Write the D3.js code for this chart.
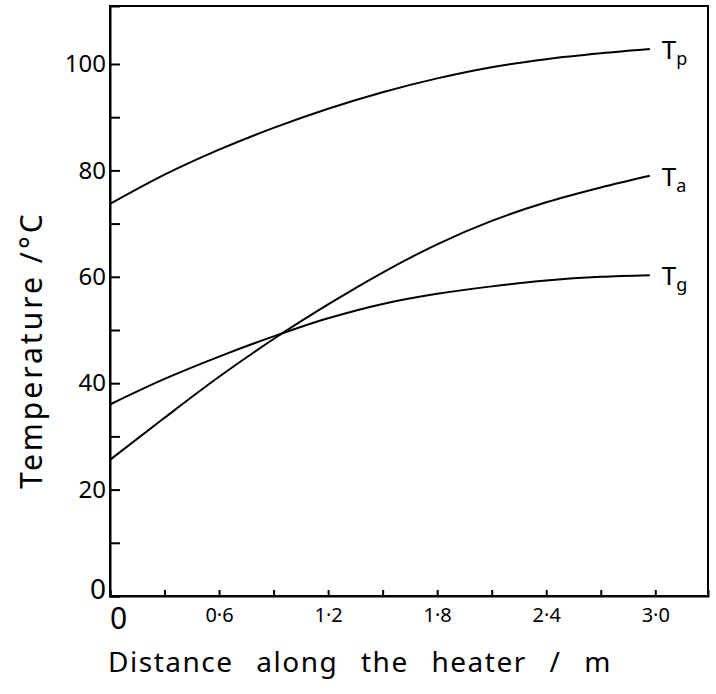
<!DOCTYPE html>
<html>
<head>
<meta charset="utf-8">
<script src="https://cdn.jsdelivr.net/npm/d3@7"></script>
<style>
  body { margin: 0; background: #fff; }
  text { font-family: "Noto Sans", sans-serif; fill: #000; }
</style>
</head>
<body>
<script>
const distance = [0, 0.3, 0.6, 0.9, 1.2, 1.5, 1.8, 2.1, 2.4, 2.7, 2.97];
const tP = [73.7, 79.2, 83.9, 88.0, 91.6, 94.7, 97.3, 99.4, 100.9, 102.0, 102.8];
const tA = [25.6, 33.5, 41.2, 48.3, 54.8, 60.8, 66.1, 70.5, 74.0, 76.8, 79.0];
const tG = [36, 40.8, 45.0, 48.8, 52.2, 54.9, 56.8, 58.2, 59.3, 60.0, 60.3];
const seriesNames = ["p", "a", "g"];
const xTicks = [0, 0.3, 0.6, 0.9, 1.2, 1.5, 1.8, 2.1, 2.4, 2.7, 3.0];
const xLabels = ["0", "", "0·6", "", "1·2", "", "1·8", "", "2·4", "", "3·0"];
const yTicks = [0, 10, 20, 30, 40, 50, 60, 70, 80, 90, 100];
const yLabels = ["0", "", "20", "", "40", "", "60", "", "80", "", "100"];

const w = 716, h = 694;
const padLeft = 110, padRight = 708, padTop = 6, padBottom = 596;

const svg = d3.select("body").append("svg")
  .attr("width", w)
  .attr("height", h);

const xScale = d3.scaleLinear().domain([0, 3.29]).range([padLeft, padRight]);
const yScale = d3.scaleLinear().domain([0, 110.9]).range([padBottom, padTop]);

// frame
svg.append("rect")
  .attr("x", padLeft).attr("y", padTop)
  .attr("width", padRight - padLeft).attr("height", padBottom - padTop)
  .attr("fill", "none").attr("stroke", "#000").attr("stroke-width", 2);

const xAxis = d3.axisBottom(xScale)
  .tickValues(xTicks)
  .tickSize(-6)
  .tickPadding(12)
  .tickFormat((d, i) => xLabels[i]);

const gx = svg.append("g")
  .attr("transform", "translate(0," + padBottom + ")")
  .call(xAxis);
gx.select(".domain").attr("stroke-width", 2);
gx.selectAll(".tick line").attr("stroke-width", 2);
gx.selectAll(".tick text")
  .style("font-size", (d, i) => i == 0 ? "30px" : "20px")
  .attr("dx", (d, i) => i == 0 ? 8 : 0);

const yAxis = d3.axisLeft(yScale)
  .tickValues(yTicks)
  .tickSize(-10)
  .tickPadding(4)
  .tickFormat((d, i) => yLabels[i]);

const gy = svg.append("g")
  .attr("transform", "translate(" + padLeft + ",0)")
  .call(yAxis);
gy.select(".domain").attr("stroke-width", 2);
gy.selectAll(".tick line").attr("stroke-width", 2);
gy.selectAll(".tick text")
  .style("font-size", (d, i) => i == 0 ? "28px" : "24px")
  .attr("dy", (d, i) => i == 0 ? "0.1em" : "0.32em");

// curves
const line = d3.line()
  .x((d, i) => xScale(distance[i]))
  .y(d => yScale(d))
  .curve(d3.curveMonotoneX);

[tP, tA, tG].forEach((s, k) => {
  svg.append("path")
    .datum(s)
    .attr("d", line)
    .attr("fill", "none")
    .attr("stroke", "#000")
    .attr("stroke-width", 2);

  const last = s.length - 1;
  const lab = svg.append("text")
    .attr("x", xScale(distance[last]) + 12)
    .attr("y", yScale(s[last]) + 10)
    .style("font-size", "26px");
  lab.append("tspan").text("T");
  lab.append("tspan")
    .attr("dy", 6)
    .style("font-size", "18px")
    .text(seriesNames[k]);
});

// axis titles
svg.append("text")
  .attr("x", 360)
  .attr("y", 672)
  .attr("text-anchor", "middle")
  .style("font-size", "28px")
  .style("letter-spacing", "1.5px")
  .style("word-spacing", "14px")
  .text("Distance along the heater / m");

svg.append("text")
  .attr("transform", "translate(42,350) rotate(-90)")
  .attr("text-anchor", "middle")
  .style("font-size", "30px")
  .style("letter-spacing", "3px")
  .text("Temperature /°C");
</script>
</body>
</html>
